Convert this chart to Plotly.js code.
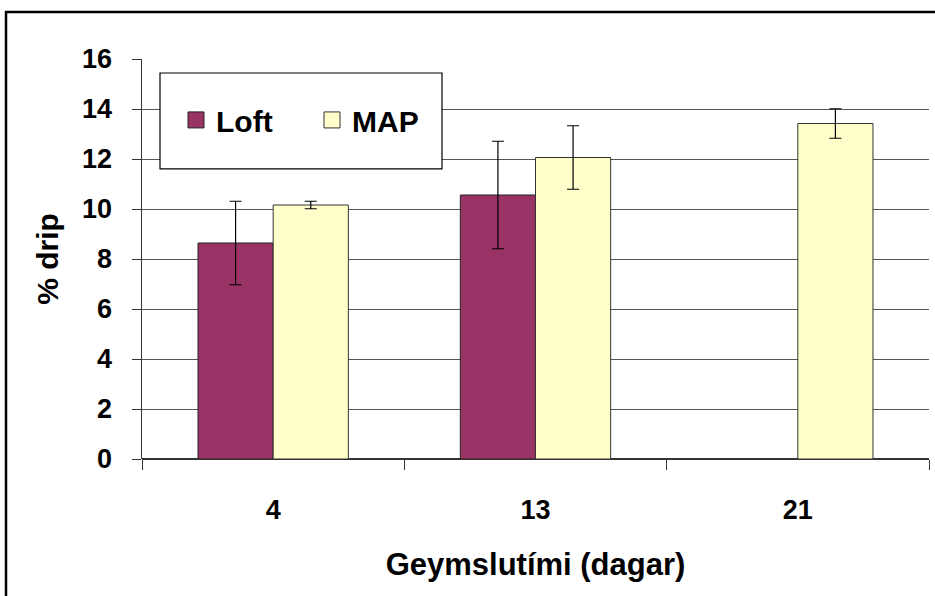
<!DOCTYPE html>
<html><head><meta charset="utf-8">
<script src="https://cdn.plot.ly/plotly-3.0.1.min.js"></script>
<style>html,body{margin:0;padding:0;background:#fff}#chart{width:935px;height:596px}</style>
</head><body><div id="chart"></div>
<script>
const categories = ['4', '13', '21'];
const seriesNames = ['Loft', 'MAP'];
const loftValues = [8.64, 10.56, null];
const loftErrors = [1.67, 2.15, null];
const mapValues = [10.16, 12.06, 13.42];
const mapErrors = [0.15, 1.27, 0.59];
const yTicks = [0, 2, 4, 6, 8, 10, 12, 14, 16];
const colors = ['#993366', '#FFFFCC'];

const font = {family: 'Liberation Sans, Arial, sans-serif', color: '#000'};
const bold = s => Object.assign({}, font, {size: s, weight: 'bold'});
const errStyle = {type: 'data', visible: true, color: '#000', thickness: 1.2, width: 6};
const traces = [
  {type: 'bar', name: seriesNames[0], x: categories, y: loftValues, showlegend: false,
   marker: {color: colors[0], line: {color: '#222', width: 1}},
   error_y: Object.assign({array: loftErrors}, errStyle)},
  {type: 'bar', name: seriesNames[1], x: categories, y: mapValues, showlegend: false,
   marker: {color: colors[1], line: {color: '#333', width: 1}},
   error_y: Object.assign({array: mapErrors}, errStyle)},
  // legend proxies (no visible data)
  {type: 'scatter', mode: 'markers', name: seriesNames[0], x: [null], y: [null],
   marker: {symbol: 'square', size: 21, color: colors[0], line: {color: '#222', width: 1}}},
  {type: 'scatter', mode: 'markers', name: seriesNames[1], x: [null], y: [null],
   marker: {symbol: 'square', size: 21, color: colors[1], line: {color: '#333', width: 1}}}
];
const L = 142, R = 929, T = 59, B = 459.5;
const px = v => (v - L) / (R - L);
const py = v => (B - v) / (B - T);
const layout = {
  width: 935, height: 596,
  margin: {l: L, r: 935 - R, t: T, b: 596 - B},
  paper_bgcolor: '#fff', plot_bgcolor: '#fff',
  barmode: 'group', bargap: 0.427, bargroupgap: 0,
  showlegend: true,
  legend: {orientation: 'h', x: px(176), y: py(120), yanchor: 'middle', xanchor: 'left',
           bgcolor: 'rgba(0,0,0,0)', borderwidth: 0, entrywidth: 91, itemsizing: 'trace',
           font: bold(30)},
  xaxis: {type: 'category', range: [-0.5, 2.5], showgrid: false, zeroline: false,
          showline: false, ticks: 'outside', tickson: 'boundaries', ticklen: 10,
          tickcolor: '#333', ticklabelstandoff: 32,
          tickfont: bold(27),
          title: {text: 'Geymslutími (dagar)', standoff: 29, font: bold(31)}},
  yaxis: {range: [0, 16], tickvals: yTicks, showgrid: true, gridcolor: '#555', gridwidth: 1,
          zeroline: true, zerolinecolor: '#333', zerolinewidth: 1.5,
          showline: true, linecolor: '#333', linewidth: 1.5,
          ticks: 'outside', ticklen: 9, tickcolor: '#333', ticklabelstandoff: 14,
          tickfont: bold(27),
          title: {text: '% drip', standoff: 14, font: bold(30)}},
  shapes: [
    {type: 'rect', xref: 'paper', yref: 'paper', x0: px(160), x1: px(442), y0: py(73), y1: py(169),
     line: {color: '#000', width: 1.2}, fillcolor: '#fff', layer: 'above'},
    {type: 'path', xref: 'paper', yref: 'paper',
     path: `M ${px(6)} ${py(700)} L ${px(6)} ${py(12)} L ${px(1100)} ${py(12)}`,
     line: {color: '#000', width: 2.5}}
  ]
};
Plotly.newPlot('chart', traces, layout, {displayModeBar: false, staticPlot: true});
</script></body></html>
